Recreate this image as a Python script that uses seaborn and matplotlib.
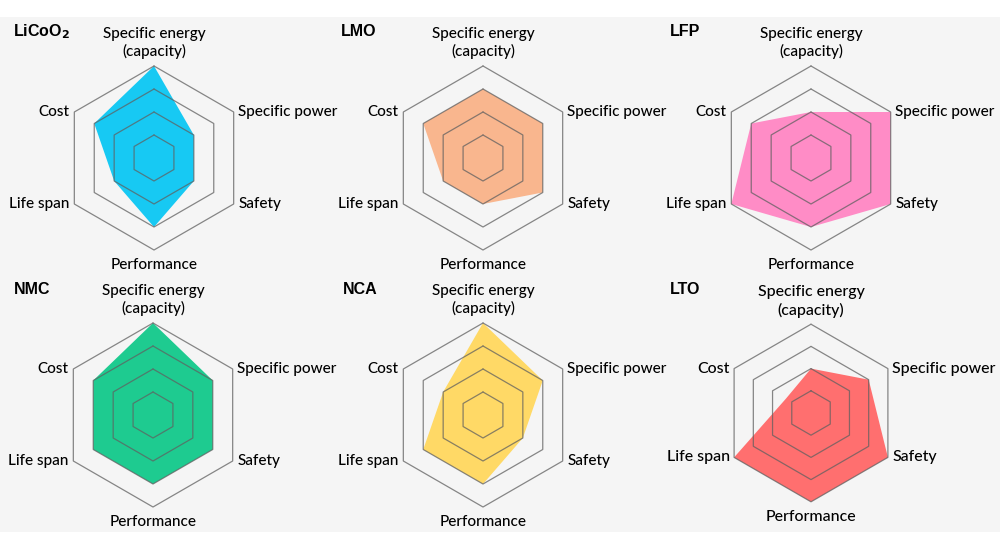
import numpy as np
import matplotlib
matplotlib.use("Agg")
import matplotlib.pyplot as plt
from matplotlib.patches import Rectangle
import seaborn as sns

# ---- data ----
categories = ["Specific energy\n(capacity)", "Specific power", "Safety",
              "Performance", "Life span", "Cost"]
materials = ["LiCoO$_\\mathbf{2}$", "LMO", "LFP", "NMC", "NCA", "LTO"]
licoo2 = [4, 2, 2, 3, 2, 3]
lmo = [3, 3, 3, 2, 2, 3]
lfp = [2, 4, 4, 3, 4, 3]
nmc = [4, 3, 3, 3, 3, 3]
nca = [4, 3, 2, 3, 3, 2]
lto = [2, 3, 4, 4, 4, 1.3]
series = [licoo2, lmo, lfp, nmc, nca, lto]
colors = ["#17C9F3", "#F9B68E", "#FF8CC6", "#1ECB90", "#FFD966", "#FF6F6F"]
levels = [1, 2, 3, 4]

sns.set_theme(style="white")
plt.rcParams["font.family"] = ["Lato", "DejaVu Sans"]
plt.rcParams["text.color"] = "black"

W, H = 1000, 549
fig = plt.figure(figsize=(W / 100, H / 100), dpi=100, facecolor="#f5f5f5")
fig.patches.append(Rectangle((0, 1 - 17 / H), 1, 17 / H, transform=fig.transFigure,
                             facecolor="white", edgecolor="none", zorder=-1))
fig.patches.append(Rectangle((0, 0), 1, 17 / H, transform=fig.transFigure,
                             facecolor="white", edgecolor="none", zorder=-1))

centers = [(154, 158), (483, 158), (811, 158), (153, 415), (483, 415), (811, 413)]
scales = [23.0, 23.0, 23.0, 23.0, 23.0, 22.2]  # px per unit
title_pos = [(13, 32), (341, 32), (670, 32), (14, 289), (343, 289), (670, 289)]
label_sizes = [11, 11, 11, 11, 11, 11.4]
aw, ah = 300, 250

angles = np.deg2rad(90 - 60 * np.arange(len(categories)))
ux, uy = np.cos(angles), np.sin(angles)

for i, (vals, col) in enumerate(zip(series, colors)):
    cx, cy = centers[i]
    scale = scales[i]
    ax = fig.add_axes([(cx - aw / 2) / W, 1 - (cy + ah / 2) / H, aw / W, ah / H])
    ax.set_xlim(-aw / 2 / scale, aw / 2 / scale)
    ax.set_ylim(-ah / 2 / scale, ah / 2 / scale)
    ax.set_axis_off()
    v = np.array(vals, dtype=float)
    ax.fill(v * ux, v * uy, color=col, lw=0, zorder=1)
    for lv in levels:
        ax.plot(np.append(lv * ux, lv * ux[0]), np.append(lv * uy, lv * uy[0]),
                color="#606060", lw=0.9, alpha=0.75, zorder=2)
    r = 4
    fs = label_sizes[i]
    kw = dict(fontsize=fs, fontweight="medium", color="black")
    ax.text(0, r + 0.3, categories[0], ha="center", va="bottom", linespacing=1.25, **kw)
    ax.text(r * ux[1] + 0.2, r * uy[1], categories[1], ha="left", va="center", **kw)
    ax.text(r * ux[2] + 0.2, r * uy[2], categories[2], ha="left", va="center", **kw)
    ax.text(0, -r - 0.35, categories[3], ha="center", va="top", **kw)
    ax.text(r * ux[4] - 0.2, r * uy[4], categories[4], ha="right", va="center", **kw)
    ax.text(r * ux[5] - 0.2, r * uy[5], categories[5], ha="right", va="center", **kw)
    tx, ty = title_pos[i]
    fig.text(tx / W, 1 - ty / H, materials[i], ha="left", va="center", fontsize=11.5,
             fontweight="bold", color="black", family=["Liberation Sans", "DejaVu Sans"])

fig.savefig("out.png", dpi=100, facecolor=fig.get_facecolor())
